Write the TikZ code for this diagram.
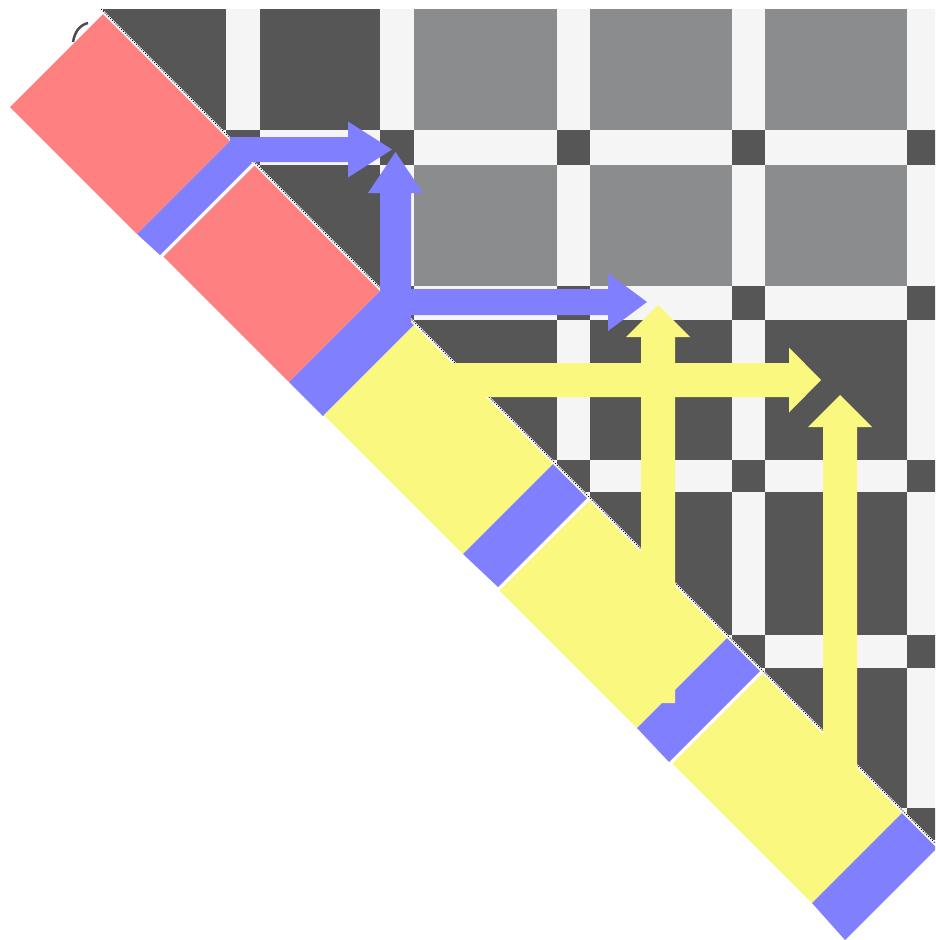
\documentclass[tikz,border=0pt]{standalone}
\usepackage{tikz}
\definecolor{dk}{RGB}{86,86,86}
\definecolor{gy}{RGB}{138,140,141}
\definecolor{wt}{RGB}{245,245,245}
\definecolor{rd}{RGB}{255,128,128}
\definecolor{bl}{RGB}{128,128,255}
\definecolor{yl}{RGB}{250,248,126}
\begin{document}
\begin{tikzpicture}[x=1pt,y=-1pt,
  redbox/.style={fill=rd},
  bluebox/.style={fill=bl},
  yellowbox/.style={fill=yl},
  bluearrow/.style={fill=bl},
  yellowarrow/.style={fill=yl}]
\useasboundingbox (0,0) rectangle (935,940);
\clip (0,0) rectangle (935,940);
\fill[white] (0,0) rectangle (935,940);

% ---- block matrix (upper triangle) ----
\begin{scope}
\clip (100,9) -- (935,9) -- (935,843) -- cycle;
\fill[wt] (103,9) rectangle (935,845);
\foreach \i/\ra/\rb/\ta/\tb in {1/9/130/130/165, 2/165/286/286/320, 3/320/460/460/492, 4/492/635/635/668, 5/668/808/808/840}{
  \foreach \j/\ca/\cb/\sa/\sb in {1/103/226/226/260, 2/260/380/380/414, 3/414/557/557/590, 4/590/732/732/765, 5/765/907/907/940}{
    \ifnum\j<\i\relax\else
      \ifnum\i<3 \ifnum\j<3 \def\bc{dk}\else\def\bc{gy}\fi\else\def\bc{dk}\fi
      \fill[\bc] (\ca,\ra) rectangle (\cb,\rb);
      \fill[dk] (\sa,\ta) rectangle (\sb,\tb);
    \fi
  }
}
\end{scope}
% jagged diagonal edge
\draw[white, line width=3] (103,12) -- (937,846);
\draw[black, line width=0.9, dash pattern=on 1pt off 1.6pt] (101,9) -- (937,845);
% small corner artefact
\draw[gray!60!black, line width=2.5] (88,23) .. controls (80,25) and (75,31) .. (73,42);

% ---- diagonal boxes ----
\fill[redbox] (103,14) -- (230,141) -- (137,234) -- (10,107) -- cycle;
\fill[bluebox] (230,141) -- (252,163) -- (160,255) -- (137,234) -- cycle;
\fill[redbox] (254.5,165.5) -- (380,291) -- (289,382) -- (163.5,256.5) -- cycle;
\fill[bluebox] (380,291) -- (414,325) -- (323,416) -- (289,382) -- cycle;
\fill[yellowbox] (414,325) -- (553,464) -- (463,554) -- (324,415) -- cycle;
\fill[bluebox] (553,464) -- (587,498) -- (498,587) -- (463,554) -- cycle;
\fill[yellowbox] (589.5,500.5) -- (727,638) -- (637,728) -- (499.5,590.5) -- cycle;
\fill[bluebox] (727,638) -- (760,671) -- (669,762) -- (637,728) -- cycle;
\fill[yellowbox] (762.5,673.5) -- (902,813) -- (812,903) -- (672.5,763.5) -- cycle;
\fill[bluebox] (902,813) -- (937,848) -- (845,940) -- (812,903) -- cycle;

% ---- blue arrows ----
\coordinate (b1s) at (230,149.5);
\coordinate (b1t) at (392,149.5);
\fill[bluearrow] (230,137) -- (348,137) -- (348,121.5) -- (b1t) -- (348,177.5) -- (348,162) -- (230,162) -- cycle;
\coordinate (b2t) at (395.5,152);
\fill[bluearrow] (380,325) -- (380,193) -- (368,193) -- (b2t) -- (423,193) -- (411,193) -- (411,325) -- cycle;
\coordinate (b3t) at (647,302);
\fill[bluearrow] (380,289) -- (608,289) -- (608,273) -- (b3t) -- (608,331) -- (608,315) -- (380,315) -- cycle;

% ---- yellow arrows ----
\coordinate (y1t) at (821,380);
\fill[yellowarrow] (440,363) -- (789,363) -- (789,347.5) -- (y1t) -- (789,412.5) -- (789,397) -- (440,397) -- cycle;
\coordinate (y2t) at (658,305);
\fill[yellowarrow] (641,703) -- (641,337) -- (626,337) -- (y2t) -- (690,337) -- (675,337) -- (675,703) -- cycle;
\coordinate (y3t) at (840,395);
\fill[yellowarrow] (823,800) -- (823,427) -- (808,427) -- (y3t) -- (872,427) -- (857,427) -- (857,800) -- cycle;
\end{tikzpicture}
\end{document}
